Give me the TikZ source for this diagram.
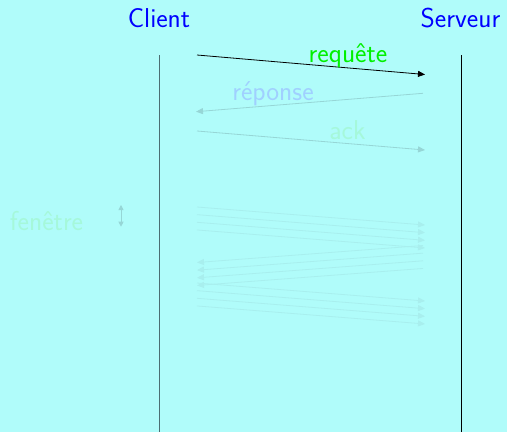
\documentclass[tikz,border=0pt]{standalone}
\usepackage{fontspec}
\usetikzlibrary{arrows.meta}
\definecolor{slidebg}{HTML}{B0FCFA}
\definecolor{actorblue}{HTML}{0000FF}
\definecolor{reqgreen}{HTML}{00F000}
\definecolor{repblue}{HTML}{A0D0FF}
\definecolor{ackgreen}{HTML}{A5F8DA}
\definecolor{clientline}{HTML}{4B6E72}
\definecolor{fadeline}{HTML}{96D6D6}
\definecolor{winline}{HTML}{A8EFEE}

\begin{document}
\begin{tikzpicture}[
  x=1pt, y=-1pt,
  font=\sffamily\fontsize{27.3}{32}\selectfont,
  >={Triangle[length=7pt,width=6pt]},
  actor/.style={anchor=base, inner sep=0pt, text=actorblue},
  lbl/.style={anchor=base, inner sep=0pt},
  lifeline/.style={line width=1pt, draw=black},
  msg/.style={->, line width=0.8pt, draw=black},
  fademsg/.style={->, line width=0.8pt, draw=fadeline},
  winmsg/.style={->, line width=0.8pt, draw=winline},
]
% ---- page ----
\fill[slidebg] (0,0) rectangle (507,432);
\useasboundingbox (0,0) rectangle (507,432);

% ---- geometry ----
\def\xC{197}  \def\xS{425}  \def\dy{7.65}

% ---- actors and lifelines ----
\node[actor] (client) at (159,27)   {Client};
\node[actor] (server) at (460.5,27) {Serveur};
\coordinate (cltop) at (159,55);   \coordinate (clbot) at (159,432);
\coordinate (svtop) at (461,55);   \coordinate (svbot) at (461,432);
\draw[lifeline, draw=clientline] (cltop) -- (clbot);
\draw[lifeline] (svtop) -- (svbot);

% ---- handshake ----
\coordinate (rq0) at (\xC,55);   \coordinate (rq1) at (\xS,74.5);
\draw[msg] (rq0) -- (rq1);
\node[lbl, text=reqgreen] (req) at (348,62.5) {requête};

\coordinate (rp0) at (423,93.3); \coordinate (rp1) at (196,111.7);
\draw[fademsg] (rp0) -- (rp1);
\node[lbl, text=repblue] (rep) at (273,100) {réponse};

\coordinate (ak0) at (\xC,131);  \coordinate (ak1) at (\xS,150);
\draw[fademsg] (ak0) -- (ak1);
\node[lbl, text=ackgreen] (ack) at (347.5,139.3) {ack};

% ---- window ----
\node[lbl, text=ackgreen] (win) at (46.5,230.7) {fenêtre};
\coordinate (wtop) at (121,205);  \coordinate (wbot) at (121,226.7);
\draw[fademsg, <->, >={Triangle[length=5pt,width=5pt]}] (wtop) -- (wbot);

% 4 out, 4 back, 4 out
\foreach \i in {0,...,3}{
  \coordinate (fa\i) at (\xC,{207+\dy*\i});
  \coordinate (fb\i) at (\xS,{225+\dy*\i});
  \draw[winmsg] (fa\i) -- (fb\i);
  \coordinate (ba\i) at (423,{245.5+\dy*\i});
  \coordinate (bb\i) at (197,{262.5+\dy*\i});
  \draw[winmsg] (ba\i) -- (bb\i);
  \coordinate (ga\i) at (\xC,{283+\dy*\i});
  \coordinate (gb\i) at (\xS,{301+\dy*\i});
  \draw[winmsg] (ga\i) -- (gb\i);
}
\end{tikzpicture}
\end{document}
